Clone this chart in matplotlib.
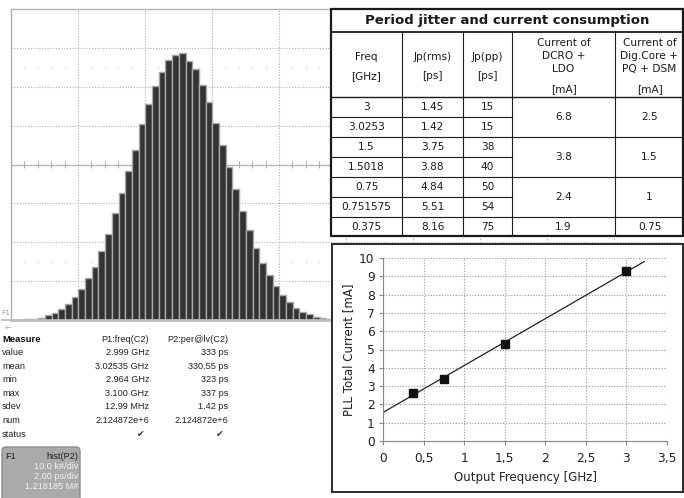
import numpy as np
import matplotlib.pyplot as plt
from matplotlib.patches import Rectangle, FancyBboxPatch
from matplotlib.ticker import FuncFormatter

W, H = 684, 498

# histogram of period (scope screenshot), counts in k# per 0.2 ps bin
bin_start_ps = 0.11
bin_width_ps = 0.2
counts_k = [0.1, 0.1, 0.15, 0.3, 0.6, 1.2, 1.9, 2.8, 4.0, 5.8, 7.9, 10.7, 13.7, 17.8,
            22.2, 27.5, 32.7, 38.3, 43.8, 50.3, 55.6, 60.3, 63.8, 66.9, 68.2, 68.6,
            66.7, 64.6, 60.5, 56.2, 50.8, 45.0, 39.3, 33.7, 28.1, 23.1, 18.6, 14.7,
            11.5, 8.7, 6.4, 4.6, 3.2, 2.1, 1.5, 0.9, 0.4, 0.3]

# scope measurement readout
meas_rows = ["value", "mean", "min", "max", "sdev", "num", "status"]
meas_p1 = ["2.999 GHz", "3.02535 GHz", "2.964 GHz", "3.100 GHz", "12.99 MHz", "2.124872e+6", "\u2714"]
meas_p2 = ["333 ps", "330.55 ps", "323 ps", "337 ps", "1.42 ps", "2.124872e+6", "\u2714"]

# table
freq_col = ["3", "3.0253", "1.5", "1.5018", "0.75", "0.751575", "0.375"]
jp_rms = ["1.45", "1.42", "3.75", "3.88", "4.84", "5.51", "8.16"]
jp_pp = ["15", "15", "38", "40", "50", "54", "75"]
freq_groups = [3, 1.5, 0.75, 0.375]
dcro_ma = [6.8, 3.8, 2.4, 1.9]
dig_ma = [2.5, 1.5, 1, 0.75]


def rect(l, t, r, b):
    return [l / W, 1 - b / H, (r - l) / W, (b - t) / H]


fig = plt.figure(figsize=(W / 100, H / 100), dpi=100)

# ---- scope histogram ----
hax = fig.add_axes(rect(11, 9, 681, 320))
centers = bin_start_ps + bin_width_ps * np.arange(len(counts_k))
hax.bar(centers, counts_k, width=bin_width_ps, color='#333333', edgecolor='#a8a8a8',
        linewidth=1.0, zorder=2)
hax.set_xlim(0, 20)
hax.set_ylim(0, 80)
for x in range(2, 20, 2):
    hax.axvline(x, color='#b0b0b0', lw=0.8, ls=(0, (1, 1.5)), zorder=1)
for y in range(10, 80, 10):
    if y != 40:
        hax.axhline(y, color='#b0b0b0', lw=0.8, ls=(0, (1, 1.5)), zorder=1)
hax.axhline(40, color='#b5b5b5', lw=1.0, zorder=1)
tx = np.arange(0.4, 20, 0.4)
tx = tx[np.abs(tx / 2 - np.round(tx / 2)) > 0.01]
hax.vlines(tx, 39, 41, color='#b0b0b0', lw=0.8, zorder=1)
hax.plot(tx, np.full(len(tx), 15), ls='none', marker='s', ms=0.8, mew=0, color='#c8c8c8', zorder=1)
hax.plot(tx, np.full(len(tx), 65), ls='none', marker='s', ms=0.8, mew=0, color='#c8c8c8', zorder=1)
hax.set_xticks([])
hax.set_yticks([])
for s in ['top', 'left']:
    hax.spines[s].set_color('#b0b0b0')
    hax.spines[s].set_linewidth(1.0)
hax.spines['bottom'].set_color('#bbbbbb')
hax.spines['bottom'].set_linewidth(2.0)
hax.spines['right'].set_visible(False)

# ---- overlay (pixel coordinates) ----
ov = fig.add_axes([0, 0, 1, 1])
ov.set_xlim(0, W)
ov.set_ylim(H, 0)
ov.axis('off')

ov.plot([2, 11], [320, 320], color='#bbbbbb', lw=1.2)
ov.text(1, 313, "F1", fontsize=5.5, color='#999999', va='center', family='Liberation Sans')
ov.text(5, 327, "\u2190", fontsize=6, color='#aaaaaa', va='center')

mfont = ['Liberation Sans', 'DejaVu Sans']
ov.text(2, 339, "Measure", fontsize=6.8, fontweight='bold', color='#111111', va='center', family=mfont)
ov.text(149, 339, "P1:freq(C2)", fontsize=6.6, color='#222222', va='center', ha='right', family=mfont)
ov.text(228, 339, "P2:per@lv(C2)", fontsize=6.6, color='#222222', va='center', ha='right', family=mfont)
for i, lab in enumerate(meas_rows):
    y = 352.5 + i * 13.6
    ov.text(2, y, lab, fontsize=6.6, color='#222222', va='center', family=mfont)
    ck = meas_p1[i] == "\u2714"
    ov.text(149 - (4 if ck else 0), y, meas_p1[i], fontsize=6.6, color='#333333' if ck else '#222222',
            va='center', ha='right', family=mfont)
    ov.text(228 - (4 if ck else 0), y, meas_p2[i], fontsize=6.6, color='#333333' if ck else '#222222',
            va='center', ha='right', family=mfont)

ov.add_patch(FancyBboxPatch((2, 447), 78, 60, boxstyle="round,pad=0,rounding_size=4",
                            fc='#aaaaaa', ec='#8c8c8c', lw=1.0))
ov.text(5, 456, "F1", fontsize=6.6, color='#222222', va='center', family=mfont)
ov.text(78, 456, "hist(P2)", fontsize=6.6, color='#222222', va='center', ha='right', family=mfont)
for y, s in zip([466.5, 476.5, 486.5], ["10.0 k#/div", "2.00 ps/div", "1.218185 M#"]):
    ov.text(78, y, s, fontsize=6.6, color='#f0f0f0', va='center', ha='right', family=mfont)

# ---- table ----
cx = [331, 402, 463, 512, 615, 684]
ry = [9, 32, 97, 117, 137, 157, 177, 197, 217, 236]
ov.add_patch(Rectangle((cx[0], ry[0]), cx[-1] - cx[0], ry[-1] - ry[0], fc='white', ec='none'))
tc = '#1a1a1a'
ov.plot([cx[0], cx[-1]], [ry[1], ry[1]], color=tc, lw=1.3)
ov.plot([cx[0], cx[-1]], [ry[2], ry[2]], color=tc, lw=1.0)
for k, y in enumerate(ry[3:-1]):
    right = cx[3] if k % 2 == 0 else cx[-1]
    ov.plot([cx[0], right], [y, y], color=tc, lw=0.8)
for x in cx[1:-1]:
    ov.plot([x, x], [ry[1], ry[-1]], color=tc, lw=0.8)
ov.add_patch(Rectangle((cx[0], ry[0]), cx[-1] - cx[0] - 1, ry[-1] - ry[0], fc='none', ec=tc, lw=1.6))

tfs = 7.6
ov.text((cx[0] + cx[-1]) / 2, 20.5, "Period jitter and current consumption", fontsize=9.5,
        fontweight='bold', ha='center', va='center', color=tc)
heads = [["Freq", "[GHz]"], ["Jp(rms)", "[ps]"], ["Jp(pp)", "[ps]"]]
for j, hd in enumerate(heads):
    xc = (cx[j] + cx[j + 1]) / 2
    ov.text(xc, 57, hd[0], fontsize=tfs, ha='center', va='center', color=tc)
    ov.text(xc, 76, hd[1], fontsize=tfs, ha='center', va='center', color=tc)
for j, hd in zip([3, 4], [["Current of", "DCRO +", "LDO"], ["Current of", "Dig.Core +", "PQ + DSM"]]):
    xc = (cx[j] + cx[j + 1]) / 2
    for y, s in zip([43, 56, 69, 89], hd + ["[mA]"]):
        ov.text(xc, y, s, fontsize=tfs, ha='center', va='center', color=tc)

for i in range(len(freq_col)):
    yc = (ry[i + 2] + ry[i + 3]) / 2
    for j, col in enumerate([freq_col, jp_rms, jp_pp]):
        ov.text((cx[j] + cx[j + 1]) / 2, yc, col[i], fontsize=tfs, ha='center', va='center', color=tc)
for g in range(len(dcro_ma)):
    if g < 3:
        yc = ry[2 + 2 * g + 1]
    else:
        yc = (ry[-2] + ry[-1]) / 2
    ov.text((cx[3] + cx[4]) / 2, yc, f"{dcro_ma[g]:g}", fontsize=tfs, ha='center', va='center', color=tc)
    ov.text((cx[4] + cx[5]) / 2, yc, f"{dig_ma[g]:g}", fontsize=tfs, ha='center', va='center', color=tc)

# scatter panel box
ov.add_patch(Rectangle((332, 244), 351, 248, fc='white', ec='#2a2a2a', lw=1.4))

# ---- scatter: total current vs frequency ----
total_ma = np.array(dcro_ma) + np.array(dig_ma)
sax = fig.add_axes(rect(383, 258, 667, 441))
slope, icpt = np.polyfit(freq_groups, total_ma, 1)
xs = np.array([0, 3.22])
sax.plot(xs, slope * xs + icpt, color='#222222', lw=0.9)
sax.plot(freq_groups, total_ma, ls='none', marker='s', ms=5.5, color='#111111')
sax.set_xlim(0, 3.5)
sax.set_ylim(0, 10)
sax.set_xticks(np.arange(0, 3.51, 0.5))
sax.set_yticks(range(0, 11))
sax.xaxis.set_major_formatter(FuncFormatter(lambda v, p: f"{v:g}".replace('.', ',')))
sax.grid(True, color='#999999', lw=0.8, ls=(0, (1, 1.5)))
sax.set_axisbelow(True)
for s in ['top', 'right']:
    sax.spines[s].set_visible(False)
for s in ['left', 'bottom']:
    sax.spines[s].set_color('#888888')
sax.tick_params(direction='out', length=3, color='#888888', labelsize=8.8, labelcolor='#222222')
sax.tick_params(axis='x', pad=5)
sax.tick_params(axis='y', pad=3)
sax.set_xlabel("Output Frequency [GHz]", fontsize=8.5, color='#222222', labelpad=4)
sax.set_ylabel("PLL Total Current [mA]", fontsize=8.5, color='#222222', labelpad=3)

fig.savefig("out.png", dpi=100)
